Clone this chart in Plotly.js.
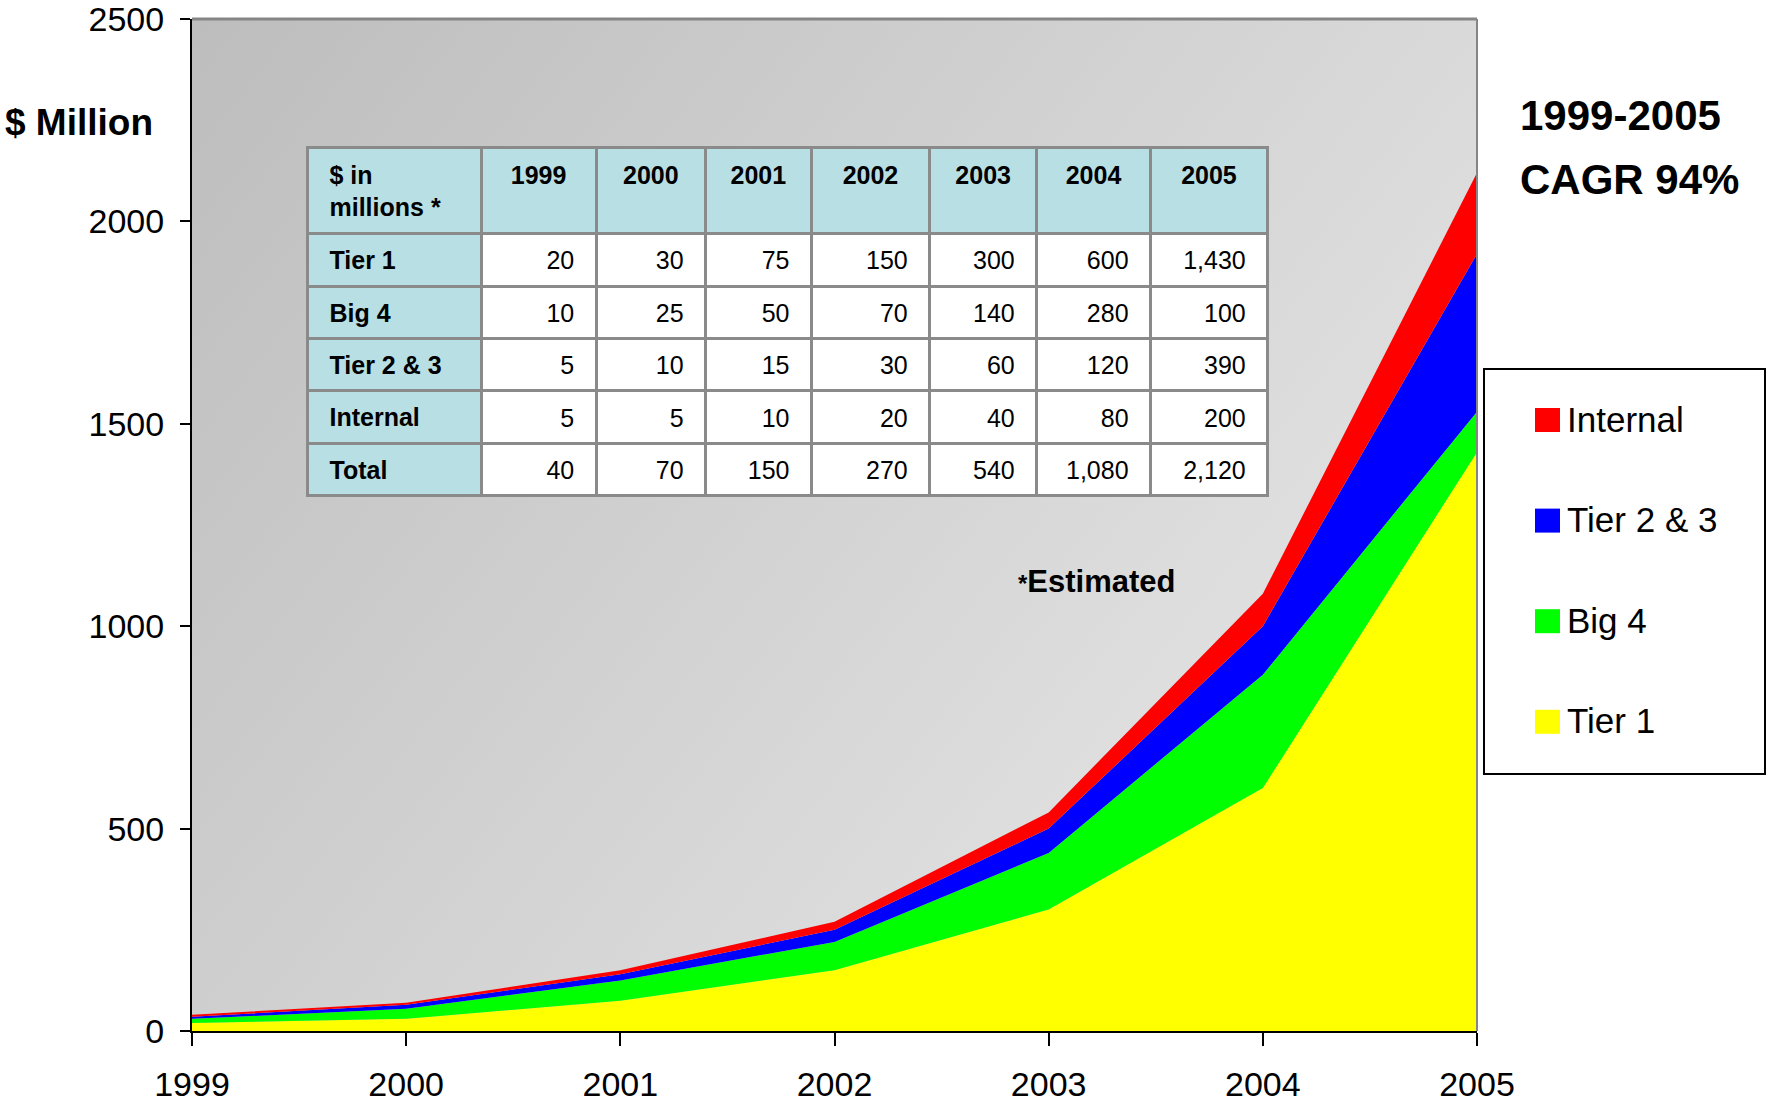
<!DOCTYPE html>
<html><head><meta charset="utf-8">
<script src="https://cdn.plot.ly/plotly-3.0.1.min.js"></script>
<style>html,body{margin:0;padding:0;background:#fff;} #chart{width:1767px;height:1102px;}</style>
</head><body><div id="chart"></div>
<script>
// ---- data ----
const years = [1999, 2000, 2001, 2002, 2003, 2004, 2005];
const seriesNames = ['Tier 1', 'Big 4', 'Tier 2 & 3', 'Internal'];
const tier1 = [20, 30, 75, 150, 300, 600, 1430];
const big4 = [10, 25, 50, 70, 140, 280, 100];
const tier23 = [5, 10, 15, 30, 60, 120, 390];
const internal = [5, 5, 10, 20, 40, 80, 200];
const yTicks = [0, 500, 1000, 1500, 2000, 2500];
const tableCorner = ['$ in', 'millions *'];
const totalLabel = 'Total';
const cagrLines = ['1999-2005', 'CAGR 94%'];
const yTitle = '$ Million';
const noteText = 'Estimated';

// ---- style ----
const colors = ['#ffff00', '#00ff00', '#0000ff', '#ff0000'];
const FONT = 'Liberation Sans, Arial, sans-serif';
const W = 1767, H = 1102, L = 192, R = 1477, T = 19, B = 1031;
const px = x => (x - L) / (R - L);
const py = y => (B - y) / (B - T);
const cyan = '#b8dfe3';

const series = [tier1, big4, tier23, internal];
const traces = series.map((vals, i) => ({
  type: 'scatter', mode: 'none', x: years, y: vals, name: seriesNames[i],
  stackgroup: 'one', fillcolor: colors[i], line: {width: 0}, showlegend: false, hoverinfo: 'skip'
}));

// table
const totals = years.map((_, j) => series.reduce((s, arr) => s + arr[j], 0));
const rowLabels = seriesNames.concat([totalLabel]);
const rows = series.concat([totals]);
const fmt = v => v.toLocaleString('en-US');
const nb = '\u00a0\u00a0';
const headerVals = ['<b>' + tableCorner.map(s => nb + s).join('<br>') + '</b>'].concat(years.map(y => '<b>' + y + '</b>'));
const cellVals = [rowLabels.map(r => nb + '<b>' + r + '</b>')].concat(
  years.map((_, j) => rows.map(r => fmt(r[j]) + nb)));
const colW = [173.6, 115, 109.4, 105.9, 118.3, 107.1, 113.8, 117.2];
traces.push({
  type: 'table',
  domain: {x: [px(307.6), px(1267.8)], y: [py(500), py(147.6)]},
  columnwidth: colW,
  header: {
    values: headerVals, height: 86,
    align: ['left'].concat(years.map(() => 'center')),
    fill: {color: cyan}, line: {color: '#8a8a8a', width: 3},
    font: {family: FONT, size: 25, color: '#000'}
  },
  cells: {
    values: cellVals, height: 52.4,
    align: ['left'].concat(years.map(() => 'right')),
    fill: {color: [rowLabels.map(() => cyan)].concat(years.map(() => rowLabels.map(() => '#ffffff')))},
    line: {color: '#8a8a8a', width: 3},
    font: {family: FONT, size: 25, color: '#000'}
  }
});

// gradient background
const cv = document.createElement('canvas');
cv.width = R - L; cv.height = B - T;
const ctx = cv.getContext('2d');
const g = ctx.createLinearGradient(0, 0, cv.width, cv.height);
g.addColorStop(0, '#bdbdbd');
g.addColorStop(1, '#ebebeb');
ctx.fillStyle = g; ctx.fillRect(0, 0, cv.width, cv.height);
const bgURL = cv.toDataURL('image/png');

// annotations & shapes
const annotations = [];
const shapes = [];
annotations.push({xref: 'paper', yref: 'paper', x: px(3), y: py(123), xanchor: 'left', yanchor: 'middle',
  text: '<b>' + yTitle + '</b>', showarrow: false, font: {family: FONT, size: 37, color: '#000'}});
annotations.push({xref: 'paper', yref: 'paper', x: px(1518), y: py(115), xanchor: 'left', yanchor: 'middle',
  text: '<b>' + cagrLines[0] + '</b>', showarrow: false, font: {family: FONT, size: 42, color: '#000'}});
annotations.push({xref: 'paper', yref: 'paper', x: px(1518), y: py(180), xanchor: 'left', yanchor: 'middle',
  text: '<b>' + cagrLines[1] + '</b>', showarrow: false, font: {family: FONT, size: 42, color: '#000'}});
annotations.push({xref: 'paper', yref: 'paper', x: px(1016), y: py(581), xanchor: 'left', yanchor: 'middle',
  text: '<b><span style="font-size:24px">*</span>' + noteText + '</b>', showarrow: false,
  font: {family: FONT, size: 31, color: '#000'}});

// plot border top/right (grey)
shapes.push({type: 'line', xref: 'paper', yref: 'paper', x0: 0, x1: 1, y0: 1, y1: 1, line: {color: '#858585', width: 3}});
shapes.push({type: 'line', xref: 'paper', yref: 'paper', x0: 1, x1: 1, y0: 0, y1: 1, line: {color: '#858585', width: 2}});

// manual legend
shapes.push({type: 'rect', xref: 'paper', yref: 'paper', x0: px(1484), x1: px(1765), y0: py(774), y1: py(369),
  line: {color: '#000', width: 2}, fillcolor: '#fff'});
const legendOrder = [3, 2, 1, 0];
legendOrder.forEach((si, k) => {
  const cy = 420 + k * 100.6;
  shapes.push({type: 'rect', xref: 'paper', yref: 'paper', x0: px(1535), x1: px(1560), y0: py(cy + 12), y1: py(cy - 12),
    line: {width: 0}, fillcolor: colors[si]});
  annotations.push({xref: 'paper', yref: 'paper', x: px(1565), y: py(cy - 1), xanchor: 'left', yanchor: 'middle',
    text: seriesNames[si], showarrow: false, font: {family: FONT, size: 35, color: '#000'}});
});

const layout = {
  width: W, height: H,
  margin: {l: L, r: W - R, t: T, b: H - B, pad: 0},
  paper_bgcolor: '#ffffff', plot_bgcolor: 'rgba(0,0,0,0)',
  showlegend: false,
  xaxis: {range: [years[0], years[years.length - 1]], tickvals: years, ticktext: years.map(String),
    showgrid: false, zeroline: false, showline: true, linecolor: '#000', linewidth: 2,
    ticks: 'outside', ticklen: 13, tickwidth: 2, tickcolor: '#000', ticklabelstandoff: 9,
    ticklabeloverflow: 'allow', tickfont: {family: FONT, size: 34, color: '#000'}},
  yaxis: {range: [0, 2500], tickvals: yTicks, showgrid: false, zeroline: false, showline: true,
    linecolor: '#000', linewidth: 2, ticks: 'outside', ticklen: 10, tickwidth: 2, tickcolor: '#000',
    ticklabelstandoff: 9, ticklabeloverflow: 'allow', tickfont: {family: FONT, size: 34, color: '#000'}},
  images: [{source: bgURL, xref: 'paper', yref: 'paper', x: 0, y: 1, sizex: 1, sizey: 1,
    xanchor: 'left', yanchor: 'top', sizing: 'stretch', layer: 'below'}],
  annotations: annotations, shapes: shapes
};
Plotly.newPlot('chart', traces, layout, {displayModeBar: false, staticPlot: true}).then(gd => {
  // vertically centre the table's cell texts (Plotly tables have top-aligned text)
  gd.querySelectorAll('.table .column-block').forEach(block => {
    const isHeader = block.id === 'header';
    block.querySelectorAll('text.cell-text').forEach(t => {
      let dy = 9;
      if (isHeader) dy = 5;
      else if (t.textContent.charAt(0) === '\u00a0') dy = 4.5;
      t.setAttribute('transform', 'translate(0,' + dy + ')');
    });
  });
});
</script></body></html>
